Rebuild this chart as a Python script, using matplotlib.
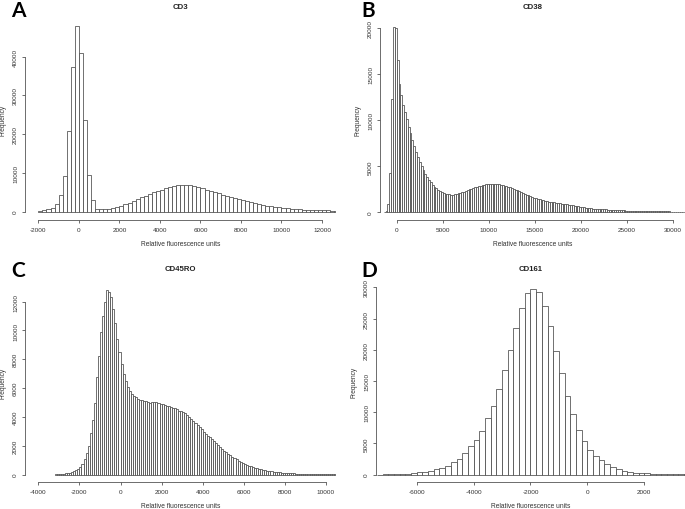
import matplotlib
matplotlib.use("Agg")
import matplotlib.pyplot as plt
import numpy as np

plt.rcParams['font.family'] = ['Liberation Sans', 'DejaVu Sans']

# ---------------- data ----------------
cd3_start, cd3_width = -2000, 200
cd3_counts = [150, 300, 600, 1000, 2000, 4200, 9300, 20800, 37300, 47900, 40800, 23600,
              9500, 2900, 800, 600, 650, 800, 1000, 1250, 1550, 1900, 2300, 2750, 3200,
              3650, 4100, 4550, 4950, 5350, 5700, 6050, 6400, 6650, 6800, 6850, 6950,
              6800, 6600, 6300, 6000, 5700, 5400, 5050, 4700, 4350, 4050, 3750, 3500,
              3250, 3050, 2750, 2450, 2200, 1950, 1750, 1550, 1400, 1250, 1100, 1000,
              880, 780, 680, 590, 510, 460, 420, 390, 360, 340, 310, 280, 250]

cd38_start, cd38_width = -1400, 200
cd38_counts = [30, 150, 900, 4300, 12300, 20100, 20000, 16600, 13900, 12700, 11700, 10900,
               10100, 9300, 8600, 7900, 7200, 6600, 6000, 5500, 5000, 4600, 4200, 3850,
               3550, 3250, 3000, 2800, 2600, 2450, 2300, 2200, 2100, 2030, 1980, 1940,
               1920, 1930, 1960, 2000, 2050, 2110, 2180, 2250, 2330, 2410, 2490, 2570,
               2650, 2720, 2790, 2850, 2910, 2960, 3000, 3040, 3070, 3090, 3100,
               3100, 3090, 3070, 3040, 3000, 2950, 2900, 2840, 2770, 2700, 2620, 2540,
               2460, 2370, 2280, 2190, 2100, 2010, 1920, 1830, 1750, 1670, 1590, 1520,
               1460, 1400, 1350, 1300, 1250, 1210, 1170, 1130, 1100, 1070, 1040, 1010,
               980, 950, 920, 890, 860, 830, 800, 770, 730, 690, 650, 610, 580, 550,
               520, 490, 460, 430, 410, 390, 370, 350, 340, 330, 320, 310, 290, 280,
               270, 260, 250, 240, 230, 220, 215, 205, 195, 185, 175, 170, 165, 160,
               150, 145, 140, 135, 130, 125, 120, 118, 115, 112, 110, 105, 100, 98, 95,
               92, 90, 88, 85, 82, 80, 78, 75, 72, 70, 68, 66, 64]

cd45ro_start, cd45ro_width = -3200, 100
cd45ro_counts = [20, 30, 40, 50, 60, 80, 100, 130, 170, 230, 300, 400, 550, 750, 1050,
                 1500, 2000, 2900, 3800, 5000, 6800, 8200, 9900, 11000, 12000, 12800,
                 12700, 12300, 11500, 10500, 9400, 8500, 7700, 7000, 6500, 6100, 5800,
                 5600, 5450, 5350, 5250, 5200, 5150, 5100, 5080, 5060, 5000, 5050, 5060,
                 5020, 4950, 4900, 4870, 4830, 4790, 4750, 4700, 4650, 4600, 4540, 4400,
                 4380, 4320, 4250, 4120, 4000, 3870, 3730, 3580, 3430, 3280, 3130, 2980,
                 2840, 2700, 2590, 2470, 2340, 2200, 2060, 1920, 1790, 1670, 1550, 1440,
                 1340, 1240, 1140, 1050, 960, 880, 810, 750, 690, 630, 580, 530, 480,
                 440, 400, 360, 330, 300, 270, 245, 220, 200, 180, 165, 150, 135, 125,
                 115, 105, 95, 88, 80, 74, 68, 62, 57, 52, 48, 45, 42, 39, 36, 34, 32,
                 30, 28, 26, 25, 24, 23, 22, 21]

cd161_start, cd161_width = -7400, 200
cd161_counts = [10, 20, 30, 60, 110, 160, 270, 370, 480, 640, 850, 1120, 1440, 1980,
                2510, 3420, 4540, 5550, 6940, 9020, 11050, 13720, 16760, 20020, 23440,
                26700, 29040, 29740, 29200, 26960, 23870, 19860, 16230, 12550, 9720,
                7210, 5390, 4000, 3040, 2350, 1650, 1280, 910, 640, 480, 320, 250, 200,
                160, 120, 100, 80, 60, 50, 40]

titles = ["CD3", "CD38", "CD45RO", "CD161"]
letters = ["A", "B", "C", "D"]
x_ticks = [np.arange(-2000, 12001, 2000), np.arange(0, 30001, 5000),
           np.arange(-4000, 10001, 2000), np.arange(-6000, 2001, 2000)]
y_ticks = [np.arange(0, 40001, 10000), np.arange(0, 20001, 5000),
           np.arange(0, 12001, 2000), np.arange(0, 30001, 5000)]
xlabel = "Relative fluorescence units"
ylabel = "Frequency"

# ---------------- layout ----------------
W, H = 685, 510
fig = plt.figure(figsize=(W / 100, H / 100), dpi=100)
fig.patch.set_facecolor("white")


def px_axes(left, top, right, bottom):
    return fig.add_axes([left / W, 1 - bottom / H, (right - left) / W, (bottom - top) / H])


panels = [
    dict(box=(25, 19, 336, 221), xlim=(-2660, 12690), ylim=(-2160, 49950),
         data=(cd3_start, cd3_width, cd3_counts), letter_xy=(11, 1)),
    dict(box=(380, 19, 685, 221), xlim=(-1810, 31270), ylim=(-837, 21120),
         data=(cd38_start, cd38_width, cd38_counts), letter_xy=(361, 1)),
    dict(box=(25, 283.7, 336, 483), xlim=(-4650, 10490), ylim=(-512, 13312),
         data=(cd45ro_start, cd45ro_width, cd45ro_counts), letter_xy=(11, 261)),
    dict(box=(376, 282.3, 685, 483), xlim=(-7430, 3430), ylim=(-1192, 30992),
         data=(cd161_start, cd161_width, cd161_counts), letter_xy=(361, 261)),
]

edge_col = "#4a4a4a"
axis_col = "#555555"

for i, p in enumerate(panels):
    ax = px_axes(*p["box"])
    start, width, counts = p["data"]
    counts = np.asarray(counts, dtype=float)
    lefts = start + width * np.arange(len(counts))
    ax.bar(lefts, counts, width=width, align="edge", color="white",
           edgecolor=edge_col, linewidth=0.55)
    ax.set_xlim(*p["xlim"])
    ax.set_ylim(*p["ylim"])
    for s in ["top", "right"]:
        ax.spines[s].set_visible(False)
    xt, yt = x_ticks[i], y_ticks[i]
    ax.spines["left"].set_bounds(yt[0], yt[-1])
    ax.spines["bottom"].set_bounds(xt[0], xt[-1])
    for s in ["left", "bottom"]:
        ax.spines[s].set_color(axis_col)
        ax.spines[s].set_linewidth(0.6)
    ax.set_xticks(xt)
    ax.set_xticklabels([str(int(v)) for v in xt], fontsize=4.6, color="#333333")
    ax.set_yticks(yt)
    ax.set_yticklabels([str(int(v)) for v in yt], fontsize=4.6, color="#333333",
                       rotation=90, va="center")
    ax.tick_params(axis="both", length=2.5, width=0.6, color=axis_col, pad=2.5)
    ax.set_xlabel(xlabel, fontsize=4.8, color="#333333", labelpad=6)
    ax.set_ylabel(ylabel, fontsize=4.8, color="#333333", labelpad=5)
    ax.set_facecolor("none")
    # title centred over plot region
    l, t, r, b = p["box"]
    fig.text(((l + r) / 2) / W, 1 - 7.5 / H, titles[i], ha="center", va="center",
             fontsize=5.6, fontweight="bold", color="#222222")
    lx, ly = p["letter_xy"]
    fig.text(lx / W, 1 - ly / H, letters[i], ha="left", va="top",
             fontsize=15, fontweight="bold", family=["Lato", "DejaVu Sans"],
             color="black")

# move titles for lower row
for txt in fig.texts:
    if txt.get_text() in ("CD45RO", "CD161"):
        x, y = txt.get_position()
        txt.set_position((x, 1 - 269.5 / H))

fig.savefig("out.png", dpi=100, facecolor="white")
